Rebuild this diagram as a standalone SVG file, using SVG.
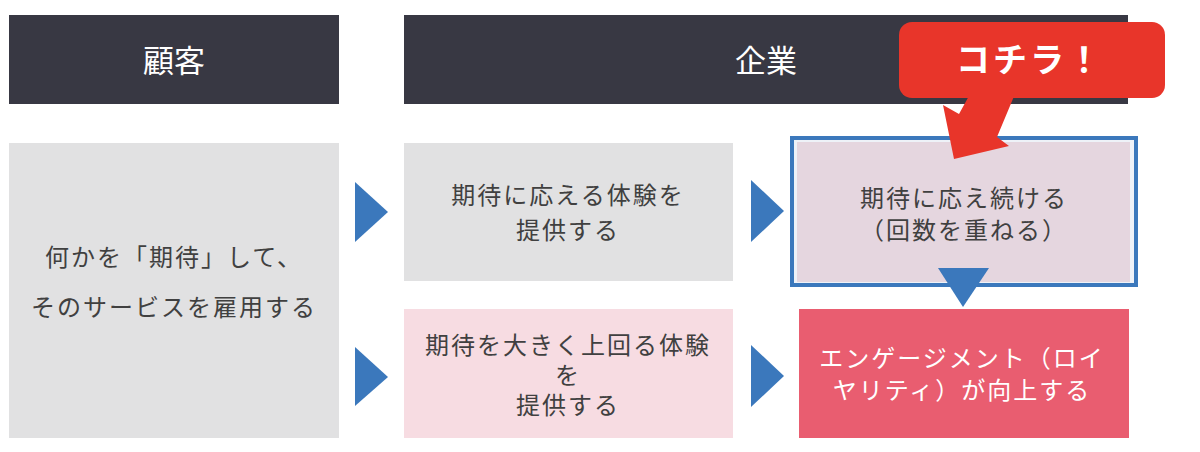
<svg xmlns="http://www.w3.org/2000/svg" width="1200" height="452" viewBox="0 0 1200 452">
<style>
text{font-family:"Noto Sans CJK JP","Noto Sans",sans-serif;text-anchor:middle}
.hdr{fill:#383843}
.hdrt{fill:#ffffff;font-size:31px}
.body{fill:#404040;font-size:24px;letter-spacing:2px}
.wbody{fill:#ffffff;font-size:24px;letter-spacing:2px}
.arr{fill:#3b78bc}
</style>
<rect width="1200" height="452" fill="#ffffff"/>
<g id="header-customer">
<rect class="hdr" x="9" y="15" width="330" height="89"/>
<text class="hdrt" x="174" y="72">顧客</text>
</g>
<g id="header-company">
<rect class="hdr" x="404" y="15" width="724" height="89"/>
<text class="hdrt" x="766" y="72">企業</text>
</g>
<g id="customer-expect">
<rect x="9" y="143" width="330" height="295" fill="#e1e1e2"/>
<text class="body" x="174" y="266">何かを「期待」して、</text>
<text class="body" x="174" y="316">そのサービスを雇用する</text>
</g>
<g id="meet-expectation">
<rect x="404" y="143" width="329" height="138" fill="#e1e1e2"/>
<text class="body" x="568" y="204">期待に応える体験を</text>
<text class="body" x="568" y="239">提供する</text>
</g>
<g id="exceed-expectation">
<rect x="404" y="309" width="329" height="129" fill="#f7dce2"/>
<text class="body" x="568" y="354">期待を大きく上回る体験</text>
<text class="body" x="568" y="384">を</text>
<text class="body" x="568" y="414">提供する</text>
</g>
<g id="keep-meeting">
<rect x="792" y="138" width="344" height="147" fill="#eef2f8" stroke="#3b78bc" stroke-width="4"/>
<rect x="797" y="142" width="333" height="140" fill="#e5d6df"/>
<text class="body" x="964" y="207">期待に応え続ける</text>
<text class="body" x="964" y="239">（回数を重ねる）</text>
</g>
<g id="engagement">
<rect x="799" y="309" width="330" height="129" fill="#e95d70"/>
<text class="wbody" x="962" y="367">エンゲージメント（ロイ</text>
<text class="wbody" x="962" y="399">ヤリティ）が向上する</text>
</g>
<g id="connectors">
<polygon class="arr" points="355,182 388,212 355,242"/>
<polygon class="arr" points="355,347 388,377 355,406"/>
<polygon class="arr" points="751,180 784,211 751,242"/>
<polygon class="arr" points="751,345 784,376 751,407"/>
<polygon class="arr" points="938,268 989,268 963,307"/>
</g>
<g id="callout">
<polygon fill="#e8352a" points="954,159 943,105 959,114 975,85 1020,82 997,137 1009,146"/>
<rect x="899" y="22" width="266" height="76" rx="13" fill="#e8352a"/>
<text x="1030" y="72" fill="#ffffff" font-size="34" font-weight="bold" letter-spacing="3">コチラ！</text>
</g>
</svg>
